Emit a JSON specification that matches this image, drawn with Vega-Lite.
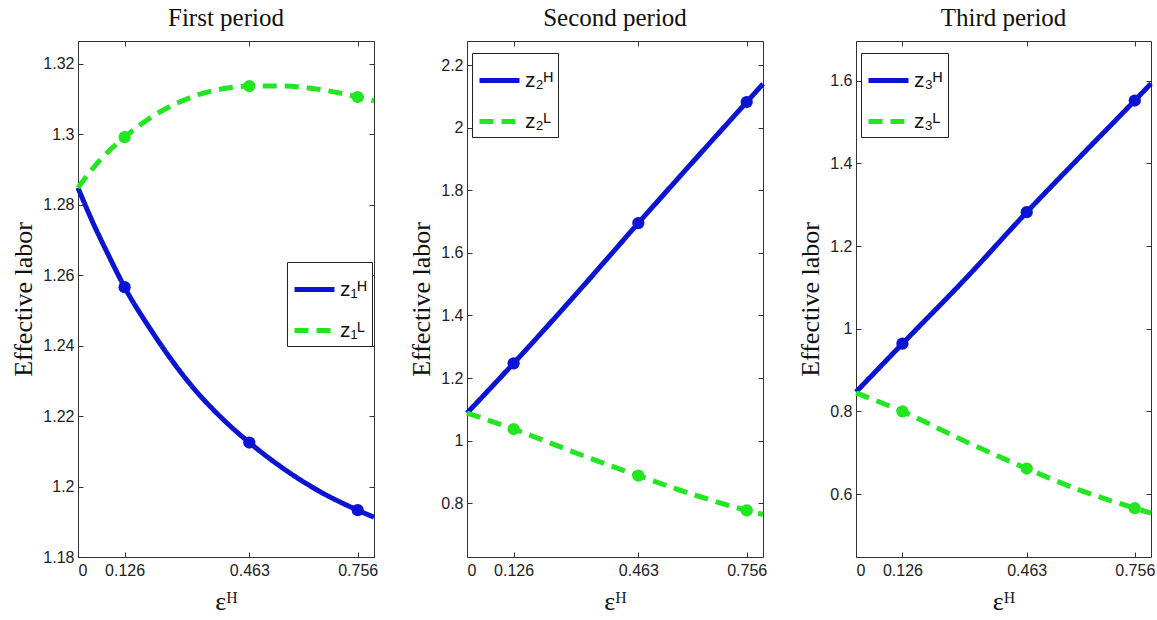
{
  "$schema": "https://vega.github.io/schema/vega-lite/v6.json",
  "background": "white",
  "padding": {"left": 10, "top": 5, "right": 5, "bottom": 5},
  "bounds": "flush",
  "spacing": 93,
  "datasets": {
    "d": [
      {"period": 1, "series": "z₁ᴴ", "eps": 0, "z": 1.2848},
      {"period": 1, "series": "z₁ᴴ", "eps": 0.04, "z": 1.275},
      {"period": 1, "series": "z₁ᴴ", "eps": 0.08, "z": 1.2662},
      {"period": 1, "series": "z₁ᴴ", "eps": 0.126, "z": 1.2566},
      {"period": 1, "series": "z₁ᴴ", "eps": 0.2, "z": 1.244},
      {"period": 1, "series": "z₁ᴴ", "eps": 0.3, "z": 1.2295},
      {"period": 1, "series": "z₁ᴴ", "eps": 0.4, "z": 1.2183},
      {"period": 1, "series": "z₁ᴴ", "eps": 0.463, "z": 1.2125},
      {"period": 1, "series": "z₁ᴴ", "eps": 0.55, "z": 1.2055},
      {"period": 1, "series": "z₁ᴴ", "eps": 0.65, "z": 1.1988},
      {"period": 1, "series": "z₁ᴴ", "eps": 0.756, "z": 1.1933},
      {"period": 1, "series": "z₁ᴴ", "eps": 0.8, "z": 1.1913},
      {"period": 1, "series": "z₁ᴸ", "eps": 0, "z": 1.2848},
      {"period": 1, "series": "z₁ᴸ", "eps": 0.03, "z": 1.289},
      {"period": 1, "series": "z₁ᴸ", "eps": 0.062, "z": 1.293},
      {"period": 1, "series": "z₁ᴸ", "eps": 0.126, "z": 1.2992},
      {"period": 1, "series": "z₁ᴸ", "eps": 0.2, "z": 1.305},
      {"period": 1, "series": "z₁ᴸ", "eps": 0.3, "z": 1.3103},
      {"period": 1, "series": "z₁ᴸ", "eps": 0.4, "z": 1.3131},
      {"period": 1, "series": "z₁ᴸ", "eps": 0.463, "z": 1.3137},
      {"period": 1, "series": "z₁ᴸ", "eps": 0.55, "z": 1.3137},
      {"period": 1, "series": "z₁ᴸ", "eps": 0.65, "z": 1.3128},
      {"period": 1, "series": "z₁ᴸ", "eps": 0.756, "z": 1.3106},
      {"period": 1, "series": "z₁ᴸ", "eps": 0.8, "z": 1.3095},
      {"period": 2, "series": "z₂ᴴ", "eps": 0, "z": 1.088},
      {"period": 2, "series": "z₂ᴴ", "eps": 0.126, "z": 1.247},
      {"period": 2, "series": "z₂ᴴ", "eps": 0.3, "z": 1.475},
      {"period": 2, "series": "z₂ᴴ", "eps": 0.463, "z": 1.695},
      {"period": 2, "series": "z₂ᴴ", "eps": 0.6, "z": 1.877},
      {"period": 2, "series": "z₂ᴴ", "eps": 0.756, "z": 2.082},
      {"period": 2, "series": "z₂ᴴ", "eps": 0.8, "z": 2.14},
      {"period": 2, "series": "z₂ᴸ", "eps": 0, "z": 1.088},
      {"period": 2, "series": "z₂ᴸ", "eps": 0.126, "z": 1.037},
      {"period": 2, "series": "z₂ᴸ", "eps": 0.3, "z": 0.958},
      {"period": 2, "series": "z₂ᴸ", "eps": 0.463, "z": 0.888},
      {"period": 2, "series": "z₂ᴸ", "eps": 0.6, "z": 0.832},
      {"period": 2, "series": "z₂ᴸ", "eps": 0.756, "z": 0.777},
      {"period": 2, "series": "z₂ᴸ", "eps": 0.8, "z": 0.764},
      {"period": 3, "series": "z₃ᴴ", "eps": 0, "z": 0.847},
      {"period": 3, "series": "z₃ᴴ", "eps": 0.126, "z": 0.964},
      {"period": 3, "series": "z₃ᴴ", "eps": 0.3, "z": 1.124},
      {"period": 3, "series": "z₃ᴴ", "eps": 0.463, "z": 1.282},
      {"period": 3, "series": "z₃ᴴ", "eps": 0.6, "z": 1.409},
      {"period": 3, "series": "z₃ᴴ", "eps": 0.756, "z": 1.552},
      {"period": 3, "series": "z₃ᴴ", "eps": 0.8, "z": 1.593},
      {"period": 3, "series": "z₃ᴸ", "eps": 0, "z": 0.845},
      {"period": 3, "series": "z₃ᴸ", "eps": 0.126, "z": 0.8},
      {"period": 3, "series": "z₃ᴸ", "eps": 0.3, "z": 0.726},
      {"period": 3, "series": "z₃ᴸ", "eps": 0.463, "z": 0.662},
      {"period": 3, "series": "z₃ᴸ", "eps": 0.6, "z": 0.612},
      {"period": 3, "series": "z₃ᴸ", "eps": 0.756, "z": 0.566},
      {"period": 3, "series": "z₃ᴸ", "eps": 0.8, "z": 0.554}
    ]
  },
  "config": {
    "view": {"stroke": "#333", "strokeWidth": 1},
    "axis": {
      "labelFont": "Liberation Sans", "labelFontSize": 16, "labelColor": "#222",
      "tickColor": "#333", "tickSize": -5, "domain": false, "grid": false,
      "titleFont": "Liberation Serif", "titleFontSize": 26, "titleFontWeight": "normal", "titleColor": "#111"
    },
    "legend": {
      "symbolType": "stroke", "symbolSize": 1600, "symbolStrokeWidth": 5,
      "labelFont": "Liberation Sans", "labelFontSize": 21, "labelColor": "#111",
      "strokeColor": "#222", "fillColor": "white", "padding": 5, "rowPadding": 8, "labelOffset": 3
    },
    "title": {"font": "Liberation Serif", "fontSize": 25, "fontWeight": "normal", "color": "#111", "offset": 10}
  },
  "resolve": {
    "scale": {"color": "independent", "strokeDash": "independent", "x": "independent", "y": "independent"},
    "legend": {"color": "independent", "strokeDash": "independent"}
  },
  "hconcat": [
    {
      "width": 296, "height": 516,
      "title": "First period",
      "data": {"name": "d"},
      "transform": [{"filter": "datum.period == 1"}],
      "resolve": {"scale": {"x": "independent", "y": "independent"}},
      "layer": [
        {
          "mark": {"type": "line", "strokeWidth": 5, "interpolate": "monotone"},
          "encoding": {
            "x": {"field": "eps", "type": "quantitative", "scale": {"domain": [0, 0.8], "nice": false, "zero": false},
                  "axis": {"orient": "bottom", "values": [0, 0.126, 0.463, 0.756], "format": ".3~f", "title": "εᴴ", "labelPadding": 10, "titlePadding": 10}},
            "y": {"field": "z", "type": "quantitative", "scale": {"domain": [1.18, 1.3265], "nice": false, "zero": false},
                  "axis": {"orient": "left", "values": [1.18, 1.2, 1.22, 1.24, 1.26, 1.28, 1.3, 1.32], "format": ".2~f", "title": "Effective labor", "labelPadding": 9, "titlePadding": 6}},
            "color": {"field": "series", "type": "nominal", "scale": {"domain": ["z₁ᴴ", "z₁ᴸ"], "range": ["#0a14d2", "#22e622"]},
                      "legend": {"orient": "none", "legendX": 209, "legendY": 221, "title": null}},
            "strokeDash": {"field": "series", "type": "nominal", "scale": {"domain": ["z₁ᴴ", "z₁ᴸ"], "range": [[1, 0], [14, 8]]},
                      "legend": {"orient": "none", "legendX": 209, "legendY": 221, "title": null}}
          }
        },
        {
          "transform": [{"filter": {"field": "eps", "oneOf": [0.126, 0.463, 0.756]}}],
          "mark": {"type": "point", "filled": true, "size": 150, "opacity": 1},
          "encoding": {
            "x": {"field": "eps", "type": "quantitative", "scale": {"domain": [0, 0.8], "nice": false, "zero": false},
                  "axis": {"orient": "top", "values": [0, 0.126, 0.463, 0.756], "labels": false, "title": null}},
            "y": {"field": "z", "type": "quantitative", "scale": {"domain": [1.18, 1.3265], "nice": false, "zero": false},
                  "axis": {"orient": "right", "values": [1.18, 1.2, 1.22, 1.24, 1.26, 1.28, 1.3, 1.32], "labels": false, "title": null}},
            "color": {"field": "series", "type": "nominal", "legend": null}
          }
        }
      ]
    },
    {
      "width": 296, "height": 516,
      "title": "Second period",
      "data": {"name": "d"},
      "transform": [{"filter": "datum.period == 2"}],
      "resolve": {"scale": {"x": "independent", "y": "independent"}},
      "layer": [
        {
          "mark": {"type": "line", "strokeWidth": 5, "interpolate": "monotone"},
          "encoding": {
            "x": {"field": "eps", "type": "quantitative", "scale": {"domain": [0, 0.8], "nice": false, "zero": false},
                  "axis": {"orient": "bottom", "values": [0, 0.126, 0.463, 0.756], "format": ".3~f", "title": "εᴴ", "labelPadding": 10, "titlePadding": 10}},
            "y": {"field": "z", "type": "quantitative", "scale": {"domain": [0.628, 2.277], "nice": false, "zero": false},
                  "axis": {"orient": "left", "values": [0.8, 1, 1.2, 1.4, 1.6, 1.8, 2, 2.2], "format": ".1~f", "title": "Effective labor", "labelPadding": 9, "titlePadding": 6}},
            "color": {"field": "series", "type": "nominal", "scale": {"domain": ["z₂ᴴ", "z₂ᴸ"], "range": ["#0a14d2", "#22e622"]},
                      "legend": {"orient": "none", "legendX": 5, "legendY": 12, "title": null}},
            "strokeDash": {"field": "series", "type": "nominal", "scale": {"domain": ["z₂ᴴ", "z₂ᴸ"], "range": [[1, 0], [14, 8]]},
                      "legend": {"orient": "none", "legendX": 5, "legendY": 12, "title": null}}
          }
        },
        {
          "transform": [{"filter": {"field": "eps", "oneOf": [0.126, 0.463, 0.756]}}],
          "mark": {"type": "point", "filled": true, "size": 150, "opacity": 1},
          "encoding": {
            "x": {"field": "eps", "type": "quantitative", "scale": {"domain": [0, 0.8], "nice": false, "zero": false},
                  "axis": {"orient": "top", "values": [0, 0.126, 0.463, 0.756], "labels": false, "title": null}},
            "y": {"field": "z", "type": "quantitative", "scale": {"domain": [0.628, 2.277], "nice": false, "zero": false},
                  "axis": {"orient": "right", "values": [0.8, 1, 1.2, 1.4, 1.6, 1.8, 2, 2.2], "labels": false, "title": null}},
            "color": {"field": "series", "type": "nominal", "legend": null}
          }
        }
      ]
    },
    {
      "width": 295, "height": 516,
      "title": "Third period",
      "data": {"name": "d"},
      "transform": [{"filter": "datum.period == 3"}],
      "resolve": {"scale": {"x": "independent", "y": "independent"}},
      "layer": [
        {
          "mark": {"type": "line", "strokeWidth": 5, "interpolate": "monotone"},
          "encoding": {
            "x": {"field": "eps", "type": "quantitative", "scale": {"domain": [0, 0.8], "nice": false, "zero": false},
                  "axis": {"orient": "bottom", "values": [0, 0.126, 0.463, 0.756], "format": ".3~f", "title": "εᴴ", "labelPadding": 10, "titlePadding": 10}},
            "y": {"field": "z", "type": "quantitative", "scale": {"domain": [0.448, 1.696], "nice": false, "zero": false},
                  "axis": {"orient": "left", "values": [0.6, 0.8, 1, 1.2, 1.4, 1.6], "format": ".1~f", "title": "Effective labor", "labelPadding": 9, "titlePadding": 6}},
            "color": {"field": "series", "type": "nominal", "scale": {"domain": ["z₃ᴴ", "z₃ᴸ"], "range": ["#0a14d2", "#22e622"]},
                      "legend": {"orient": "none", "legendX": 5, "legendY": 12, "title": null}},
            "strokeDash": {"field": "series", "type": "nominal", "scale": {"domain": ["z₃ᴴ", "z₃ᴸ"], "range": [[1, 0], [14, 8]]},
                      "legend": {"orient": "none", "legendX": 5, "legendY": 12, "title": null}}
          }
        },
        {
          "transform": [{"filter": {"field": "eps", "oneOf": [0.126, 0.463, 0.756]}}],
          "mark": {"type": "point", "filled": true, "size": 150, "opacity": 1},
          "encoding": {
            "x": {"field": "eps", "type": "quantitative", "scale": {"domain": [0, 0.8], "nice": false, "zero": false},
                  "axis": {"orient": "top", "values": [0, 0.126, 0.463, 0.756], "labels": false, "title": null}},
            "y": {"field": "z", "type": "quantitative", "scale": {"domain": [0.448, 1.696], "nice": false, "zero": false},
                  "axis": {"orient": "right", "values": [0.6, 0.8, 1, 1.2, 1.4, 1.6], "labels": false, "title": null}},
            "color": {"field": "series", "type": "nominal", "legend": null}
          }
        }
      ]
    }
  ]
}
